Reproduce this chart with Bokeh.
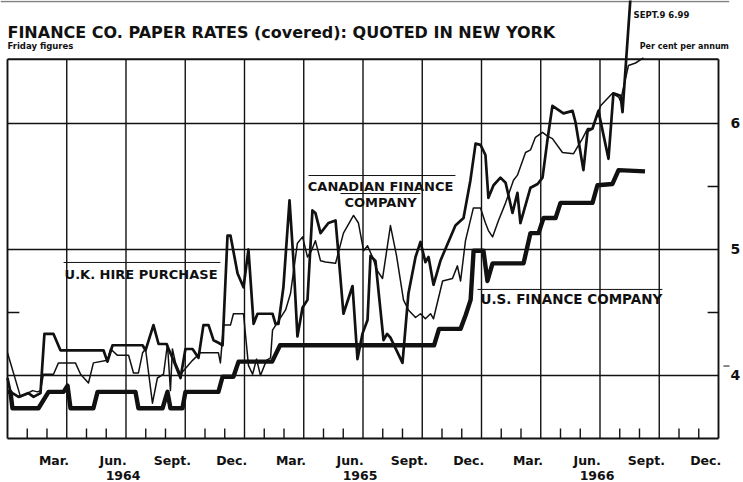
from bokeh.plotting import figure
from bokeh.models import LinearAxis, FixedTicker, Range1d, Label
from bokeh.embed import file_html
from bokeh.resources import INLINE

# ---------------- data (months since 1 Jan 1964, per cent per annum) ----------------
us_months = [0, 0.15, 0.25, 1.57, 2.08, 2.84, 3.04, 3.19, 4.35, 4.56, 6.48, 6.63, 7.85, 8.1,
             8.25, 8.86, 9.01, 10.68, 10.89, 11.44, 11.7, 13.4, 13.8, 21.6, 21.85, 22.94,
             23.2, 23.45, 23.6, 24.1, 24.3, 24.56, 26.13, 26.48, 26.89, 27.14, 27.75, 28.0,
             29.62, 29.87, 30.63, 30.94, 32.28]
us_rates = [3.87, 3.87, 3.74, 3.74, 3.87, 3.87, 3.92, 3.74, 3.74, 3.87, 3.87, 3.74, 3.74, 3.87,
            3.74, 3.74, 3.87, 3.87, 3.99, 3.99, 4.11, 4.11, 4.24, 4.24, 4.37, 4.37,
            4.48, 4.6, 4.99, 4.99, 4.75, 4.89, 4.89, 5.13, 5.13, 5.25, 5.25, 5.37,
            5.37, 5.51, 5.52, 5.63, 5.62]

uk_months = [0, 0.15, 0.56, 1.06, 1.32, 1.67, 1.87, 2.33, 2.68, 4.86, 5.06, 5.32, 6.84, 6.99,
             7.39, 7.65, 8.05, 8.35, 8.76, 9.01, 9.37, 9.67, 9.92, 10.18, 10.43, 10.68, 10.89,
             11.14, 11.29, 11.65, 11.95, 12.2, 12.46, 12.66, 13.42, 13.57, 13.72, 13.97, 14.28,
             14.48, 14.68, 14.94, 15.19, 15.44, 15.59, 15.85, 16.25, 16.61, 16.71, 17.01, 17.47,
             17.72, 17.97, 18.23, 18.38, 18.63, 19.04, 19.22, 19.39, 20.0, 20.3, 20.66, 20.91,
             21.16, 21.32, 21.57, 21.92, 22.08, 22.68, 23.09, 23.44, 23.7, 23.95, 24.2, 24.35,
             24.61, 24.96, 25.22, 25.57, 25.82, 25.97, 26.48, 26.84, 27.09, 27.34, 27.59, 28.15,
             28.61, 28.76, 29.16, 29.37, 29.62, 29.92, 30.43, 30.68, 31.04, 31.14, 31.54]
uk_rates = [3.98, 3.87, 3.83, 3.86, 3.83, 3.86, 4.33, 4.33, 4.2, 4.2, 4.11, 4.24, 4.24, 4.2,
            4.4, 4.25, 4.25, 4.14, 3.98, 4.21, 4.21, 4.14, 4.4, 4.4, 4.28, 4.26, 4.24,
            5.11, 5.11, 4.81, 4.7, 5.0, 4.41, 4.49, 4.49, 4.41, 4.41, 4.7, 5.39,
            4.91, 4.31, 4.54, 4.6, 5.31, 5.29, 5.13, 5.21, 5.23, 5.05, 4.49, 4.71,
            4.13, 4.33, 4.44, 4.95, 4.91, 4.28, 4.33, 4.3, 4.1, 4.65, 4.94, 5.06,
            4.9, 4.94, 4.72, 4.91, 4.97, 5.19, 5.25, 5.55, 5.84, 5.83, 5.75, 5.41,
            5.51, 5.57, 5.53, 5.29, 5.45, 5.21, 5.49, 5.52, 5.57, 5.87, 6.14, 6.08,
            6.1, 6.01, 5.63, 5.94, 5.96, 6.1, 5.72, 6.24, 6.22, 6.09, 6.99]

ca_months = [0, 0.66, 0.91, 1.27, 1.52, 1.67, 1.82, 2.33, 2.58, 3.44, 3.7, 4.1, 4.35, 5.06,
             5.22, 5.57, 6.13, 6.38, 6.63, 6.84, 6.99, 7.34, 7.59, 7.9, 8.1, 8.25, 8.35, 8.51,
             8.76, 9.37, 9.77, 10.68, 10.78, 10.94, 11.29, 11.44, 11.95, 12.2, 12.41, 12.61,
             12.81, 13.11, 13.32, 13.42, 14.08, 14.33, 14.68, 14.94, 15.19, 15.39, 15.59, 15.85,
             16.1, 16.61, 17.01, 17.52, 17.77, 18.03, 18.23, 18.48, 18.73, 18.99, 19.39, 19.7,
             20.05, 20.3, 20.66, 20.91, 21.16, 21.42, 21.57, 22.03, 22.53, 22.78, 22.94, 23.19,
             23.59, 23.95, 24.2, 24.35, 24.56, 24.86, 25.22, 25.62, 25.82, 26.23, 26.48, 26.73,
             27.09, 27.34, 27.59, 28.1, 28.66, 29.11, 29.37, 29.62, 30.03, 30.63, 30.94, 31.04,
             31.44, 31.8, 32.2]
ca_rates = [4.18, 3.83, 3.85, 3.88, 3.87, 3.88, 4.01, 4.01, 4.1, 4.1, 4.01, 3.94, 4.1, 4.12,
            4.21, 4.16, 4.16, 4.02, 4.02, 4.18, 4.21, 3.78, 3.98, 4.01, 4.25, 3.88, 4.21, 4.1,
            4.01, 4.12, 4.18, 4.18, 4.1, 4.4, 4.4, 4.49, 4.49, 4.08, 4.01, 4.13,
            4.0, 4.12, 4.14, 4.36, 4.52, 4.65, 5.05, 5.1, 4.94, 4.99, 5.07, 4.91,
            4.9, 4.89, 5.13, 5.27, 5.21, 4.99, 5.03, 4.94, 4.83, 4.77, 5.19, 4.95,
            4.6, 4.52, 4.46, 4.49, 4.45, 4.49, 4.45, 4.75, 4.77, 4.87, 4.75, 5.07,
            5.33, 5.33, 5.21, 5.15, 5.1, 5.23, 5.37, 5.55, 5.59, 5.77, 5.79, 5.89,
            5.93, 5.9, 5.88, 5.77, 5.76, 5.88, 5.96, 5.96, 6.14, 6.24, 6.21, 6.18,
            6.46, 6.48, 6.52]

month_labels = ["Mar.", "Jun.", "Sept.", "Dec."] * 3
year_labels = ["1964", "1965", "1966"]
rate_ticks = [4, 5, 6]

# ---------------- layout ----------------
FONT = "DejaVu Sans"
INK = "#111111"
N_MONTHS = 36
BOX_BOTTOM, BOX_TOP = 3.5, 6.51
X_START, X_END = -0.354, 36.557

p = figure(width=743, height=482, x_range=Range1d(X_START, X_END), y_range=Range1d(3.484, 6.976),
           output_backend="svg", toolbar_location=None, x_axis_type=None, y_axis_type=None,
           min_border_left=0, min_border_right=14, min_border_top=0, min_border_bottom=42)
p.outline_line_color = None
p.background_fill_color = "white"
p.border_fill_color = "white"

# page rule at the very top
p.segment(x0=[X_START], y0=[6.968], x1=[X_END], y1=[6.968], line_color="#808080", line_width=1.5)

# frame box, quarterly verticals and horizontal rules
quarters = list(range(3, N_MONTHS, 3))
p.segment(x0=quarters, y0=BOX_BOTTOM, x1=quarters, y1=BOX_TOP, line_color=INK, line_width=1.4)
p.segment(x0=0, y0=rate_ticks, x1=N_MONTHS, y1=rate_ticks, line_color=INK, line_width=1.4)
p.segment(x0=[0, N_MONTHS, 0, 0], y0=[BOX_BOTTOM, BOX_BOTTOM, BOX_TOP, BOX_BOTTOM],
          x1=[0, N_MONTHS, N_MONTHS, N_MONTHS], y1=[BOX_TOP, BOX_TOP, BOX_TOP, BOX_BOTTOM],
          line_color=INK, line_width=1.9)
minor_months = [m for m in range(1, N_MONTHS) if m % 3]
p.segment(x0=minor_months, y0=BOX_BOTTOM, x1=minor_months, y1=BOX_BOTTOM + 0.08,
          line_color=INK, line_width=1.4)
p.segment(x0=N_MONTHS - 0.55, y0=[4.5, 5.5], x1=N_MONTHS, y1=[4.5, 5.5], line_color=INK, line_width=1.4)
p.segment(x0=0, y0=[4.5], x1=0.6, y1=[4.5], line_color=INK, line_width=1.4)
# short rule over the "4" tick label, just right of the frame
p.segment(x0=[N_MONTHS + 0.25], y0=[4.075], x1=[N_MONTHS + 1.0], y1=[4.075], line_color=INK, line_width=1)

# series
p.line(ca_months, ca_rates, line_color=INK, line_width=1.5, line_join="round")
p.line(uk_months, uk_rates, line_color=INK, line_width=2.7, line_join="round")
p.line(us_months, us_rates, line_color=INK, line_width=4.4, line_join="round")

# axes
month_pos = [2.35 + 3 * i for i in range(len(month_labels))]
xa = LinearAxis(ticker=FixedTicker(ticks=month_pos),
                major_label_overrides={pos: lab for pos, lab in zip(month_pos, month_labels)},
                axis_line_color=None, major_tick_line_color=None, minor_tick_line_color=None,
                major_tick_out=0, major_tick_in=0, minor_tick_out=0, minor_tick_in=0,
                major_label_standoff=12, major_label_text_font=FONT,
                major_label_text_font_style="bold", major_label_text_font_size="12.5px",
                major_label_text_color=INK)
p.add_layout(xa, "below")
year_pos = [5.85 + 12 * i for i in range(len(year_labels))]
ya = LinearAxis(ticker=FixedTicker(ticks=year_pos),
                major_label_overrides={pos: lab for pos, lab in zip(year_pos, year_labels)},
                axis_line_color=None, major_tick_line_color=None, minor_tick_line_color=None,
                major_tick_out=0, major_tick_in=0, minor_tick_out=0, minor_tick_in=0,
                major_label_standoff=0, major_label_text_font=FONT,
                major_label_text_font_style="bold", major_label_text_font_size="12.5px",
                major_label_text_color=INK)
p.add_layout(ya, "below")
ra = LinearAxis(ticker=FixedTicker(ticks=rate_ticks), axis_line_color=None,
                major_tick_line_color=None, minor_tick_line_color=None,
                major_tick_out=0, major_tick_in=0, minor_tick_out=0, minor_tick_in=0,
                major_label_standoff=1, major_label_text_font=FONT,
                major_label_text_font_style="bold", major_label_text_font_size="14px",
                major_label_text_color=INK)
p.add_layout(ra, "right")

TEXT_LIFT = 0.048  # rendered baseline sits a few pixels low; lift to match


def add_text(x, y, text, size, align="left"):
    p.add_layout(Label(x=x, y=y + TEXT_LIFT, text=text, text_font=FONT, text_font_style="bold",
                       text_font_size=size, text_color=INK, text_align=align,
                       text_baseline="alphabetic"))


add_text(0, 6.675, "FINANCE CO. PAPER RATES (covered): QUOTED IN NEW YORK", "16px")
add_text(0, 6.563, "Friday figures", "8.5px")
add_text(31.7, 6.81, "SEPT.9 6.99", "8.5px")
add_text(X_END - 0.03, 6.563, "Per cent per annum", "8px", "right")
add_text(2.89, 4.754, "U.K. HIRE PURCHASE", "13px")
add_text(18.89, 5.452, "CANADIAN FINANCE", "13px", "center")
add_text(18.89, 5.325, "COMPANY", "13px", "center")
add_text(23.95, 4.556, "U.S. FINANCE COMPANY", "13.5px")

# printed rules above the series labels
p.segment(x0=[2.84, 15.24, 16.86, 23.8], y0=[4.897, 5.587, 5.444, 4.683],
          x1=[10.78, 22.68, 20.91, 33.16], y1=[4.897, 5.587, 5.444, 4.683],
          line_color=INK, line_width=1)

open("out.html", "w").write(file_html(p, INLINE))
